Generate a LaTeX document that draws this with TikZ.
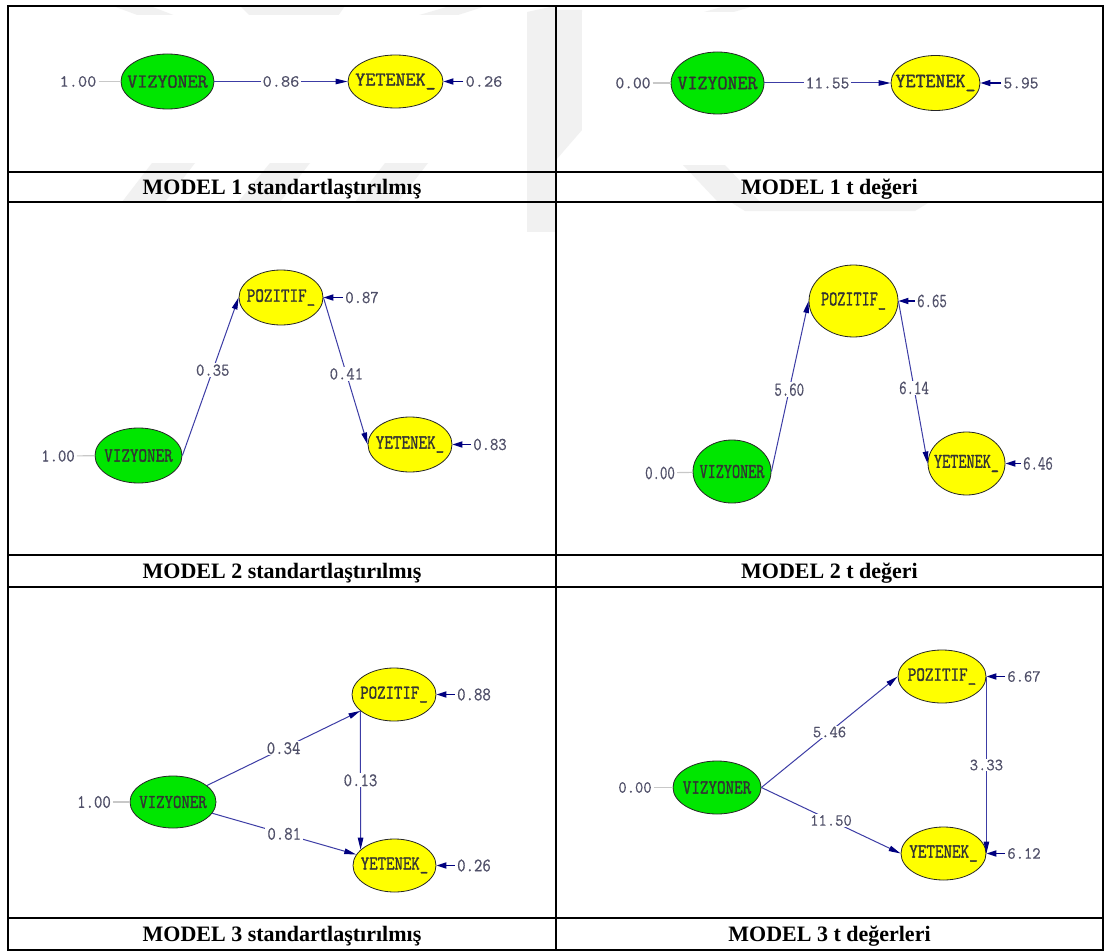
\documentclass[tikz,border=0pt]{standalone}
\usepackage{fontspec}
\setmainfont{Liberation Serif}
\newfontfamily\lvmono{Latin Modern Mono}[FakeBold=1.6]
\newfontfamily\nmmono{Latin Modern Mono}[FakeBold=0.5]
\usetikzlibrary{shapes.geometric,arrows.meta}

\definecolor{lvgreen}{RGB}{0,230,0}
\definecolor{lvyellow}{RGB}{255,255,0}
\definecolor{pathblue}{RGB}{60,60,165}
\definecolor{tipnavy}{RGB}{0,0,128}
\definecolor{valgray}{RGB}{80,80,105}
\definecolor{leadgray}{RGB}{200,200,200}
\definecolor{wmgray}{RGB}{241,241,241}

% per-panel text sizes and horizontal squeeze
\def\lvsx{1}\def\lvfs{20}\def\nmsx{1}\def\nmfs{17}
\newcommand\vt[1]{\makebox[0pt]{\scalebox{\lvsx}[1]{#1}}}
\newcommand\nt[1]{\scalebox{\nmsx}[1]{#1}}

\tikzset{
  latent/.style={ellipse, draw=black!85, line width=0.8pt, inner sep=0pt,
    text=black!80, font=\lvmono\fontsize{\lvfs}{\lvfs}\selectfont},
  exo/.style={latent, fill=lvgreen},
  endo/.style={latent, fill=lvyellow},
  val/.style={text=valgray, inner xsep=2pt, inner ysep=1pt,
    font=\nmmono\fontsize{\nmfs}{\nmfs}\selectfont},
  onpath/.style={val, fill=white},
  effect/.style={draw=pathblue, line width=1pt,
    -{Triangle[length=12pt,width=5.5pt,color=tipnavy]}},
  resid/.style={draw=tipnavy, line width=1.8pt, -{Triangle[length=10pt,width=6pt]}},
  fixed/.style={draw=leadgray, line width=1.2pt},
  caption/.style={font=\bfseries\fontsize{22}{24}\selectfont, anchor=base},
  grid/.style={line width=1.6pt, draw=black},
  wmark/.style={fill=wmgray, draw=none},
}

\begin{document}
\begin{tikzpicture}[x=1pt,y=-1pt]
\useasboundingbox (0,0) rectangle (1105,952);
\fill[white] (0,0) rectangle (1105,952);

% faint page watermark
\fill[wmark] (113,6) -- (150,6) -- (176,16) -- (140,16) -- cycle;
\fill[wmark] (240,6) -- (345,6) -- (338,16) -- (250,16) -- cycle;
\fill[wmark] (450,6) -- (486,6) -- (455,16) -- (416,16) -- cycle;
\fill[wmark] (725,6) -- (754,6) -- (720,16) -- (690,16) -- cycle;
\fill[wmark] (527,12) -- (555,6) -- (555,202) -- (527,202) -- cycle;
\fill[wmark] (556,10) -- (582,10) -- (582,130) -- (556,160) -- cycle;
\fill[wmark] (152,163) -- (195,163) -- (165,202) -- (122,202) -- cycle;
\fill[wmark] (270,163) -- (310,163) -- (280,202) -- (238,202) -- cycle;
\fill[wmark] (385,163) -- (428,163) -- (398,202) -- (355,202) -- cycle;
\fill[wmark] (683,165) -- (725,165) -- (760,202) -- (718,202) -- cycle;
\fill[wmark] (732,203) -- (928,203) -- (915,211) -- (745,211) -- cycle;
\fill[wmark] (527,203) -- (555,203) -- (555,232) -- (527,232) -- cycle;

% white backgrounds of the path diagrams
\fill[white] (11,15) rectangle (527,163);
\fill[white] (582,12) rectangle (1095,165);
\fill[white] (11,203) rectangle (527,553);

% MODEL 1, standardized
\begin{scope}
\def\lvsx{1}\def\lvfs{19.5}\def\nmsx{1.05}\def\nmfs{17}
\node[exo, minimum width=93pt, minimum height=55pt] (v1) at (167.5,81.5) {\vt{VIZYONER}};
\node[endo, minimum width=95pt, minimum height=53pt] (y1) at (395.5,81.5) {\vt{YETENEK\_}};
\node[val] (c1) at (78,81.5) {\nt{1.00}};
\node[val] (e1) at (484,81.5) {\nt{0.26}};
\draw[fixed] (c1) -- (v1);
\draw[effect] (v1) -- node[onpath]{\nt{0.86}} (y1);
\draw[resid] (e1) -- (y1);
\end{scope}

% MODEL 1, t values
\begin{scope}
\def\lvsx{0.97}\def\lvfs{20}\def\nmsx{0.97}\def\nmfs{17.5}
\node[exo, minimum width=93pt, minimum height=62pt] (v2) at (717.5,83) {\vt{VIZYONER}};
\node[endo, minimum width=89pt, minimum height=55pt] (y2) at (935.5,83) {\vt{YETENEK\_}};
\node[val] (c2) at (633,83) {\nt{0.00}};
\node[val] (e2) at (1021,83) {\nt{5.95}};
\draw[fixed] (c2) -- (v2);
\draw[effect] (v2) -- node[onpath]{\nt{11.55}} (y2);
\draw[resid] (e2) -- (y2);
\end{scope}

% MODEL 2, standardized
\begin{scope}
\def\lvsx{0.83}\def\lvfs{20}\def\nmsx{0.9}\def\nmfs{18}
\node[endo, minimum width=84pt, minimum height=55pt] (p3) at (281,297.5) {\vt{POZITIF\_}};
\node[exo, minimum width=87pt, minimum height=55pt] (v3) at (138.5,455.5) {\vt{VIZYONER}};
\node[endo, minimum width=84pt, minimum height=55pt] (y3) at (410,444.5) {\vt{YETENEK\_}};
\node[val] (c3) at (58,456) {\nt{1.00}};
\node[val] (e3p) at (362,297.5) {\nt{0.87}};
\node[val] (e3y) at (490,444.5) {\nt{0.83}};
\draw[fixed] (c3) -- (v3);
\draw[effect] (v3.east) -- node[onpath, pos=0.54]{\nt{0.35}} (p3.west);
\draw[effect] (p3.east) -- node[onpath, pos=0.52]{\nt{0.41}} (y3.west);
\draw[resid] (e3p) -- (p3);
\draw[resid] (e3y) -- (y3);
\end{scope}

% MODEL 2, t values
\begin{scope}
\def\lvsx{0.75}\def\lvfs{21}\def\nmsx{0.72}\def\nmfs{20}
\node[endo, minimum width=89pt, minimum height=72pt] (p4) at (853.5,301) {\vt{POZITIF\_}};
\node[exo, minimum width=78pt, minimum height=63pt] (v4) at (732,471.5) {\vt{VIZYONER}};
\node[endo, minimum width=77pt, minimum height=63pt] (y4) at (966.5,463.5) {\vt{YETENEK\_}};
\node[val] (c4) at (660,473) {\nt{0.00}};
\node[val] (e4p) at (932,301) {\nt{6.65}};
\node[val] (e4y) at (1038,463.5) {\nt{6.46}};
\draw[fixed] (c4) -- (v4);
\draw[effect] (v4.east) -- node[onpath, pos=0.48]{\nt{5.60}} (p4.west);
\draw[effect] (p4.east) -- node[onpath, pos=0.535]{\nt{6.14}} (y4.west);
\draw[resid] (e4p) -- (p4);
\draw[resid] (e4y) -- (y4);
\end{scope}

% MODEL 3, standardized
\begin{scope}
\def\lvsx{0.84}\def\lvfs{19.5}\def\nmsx{0.86}\def\nmfs{19}
\node[endo, minimum width=84pt, minimum height=53pt] (p5) at (394,694.5) {\vt{POZITIF\_}};
\node[exo, minimum width=86pt, minimum height=52pt] (v5) at (173,802) {\vt{VIZYONER}};
\node[endo, minimum width=83pt, minimum height=53pt] (y5) at (394.5,865.5) {\vt{YETENEK\_}};
\node[val] (c5) at (94,802) {\nt{1.00}};
\node[val] (e5p) at (474,694.5) {\nt{0.88}};
\node[val] (e5y) at (474,865.5) {\nt{0.26}};
\draw[fixed] (c5) -- (v5);
\draw[effect] (v5) -- node[onpath]{\nt{0.34}} (p5);
\draw[effect] (v5) -- node[onpath]{\nt{0.81}} (y5);
\draw[effect] (p5.206.4) -- node[onpath]{\nt{0.13}} (y5.155);
\draw[resid] (e5p) -- (p5);
\draw[resid] (e5y) -- (y5);
\end{scope}

% MODEL 3, t values
\begin{scope}
\def\lvsx{0.83}\def\lvfs{20}\def\nmsx{0.95}\def\nmfs{17}
\node[endo, minimum width=88pt, minimum height=53pt] (p6) at (942,676.5) {\vt{POZITIF\_}};
\node[exo, minimum width=88pt, minimum height=53pt] (v6) at (717,787.5) {\vt{VIZYONER}};
\node[endo, minimum width=85pt, minimum height=53pt] (y6) at (943.5,853.5) {\vt{YETENEK\_}};
\node[val] (c6) at (635,787.5) {\nt{0.00}};
\node[val] (e6p) at (1024,676.5) {\nt{6.67}};
\node[val] (e6y) at (1024,853.5) {\nt{6.12}};
\draw[fixed] (c6) -- (v6);
\draw[effect] (v6.east) -- node[onpath]{\nt{5.46}} (p6.west);
\draw[effect] (v6.east) -- node[onpath]{\nt{11.50}} (y6.west);
\draw[effect] (p6.east) -- node[onpath]{\nt{3.33}} (y6.east);
\draw[resid] (e6p) -- (p6);
\draw[resid] (e6y) -- (y6);
\end{scope}

% table rules
\draw[grid] (8,6) rectangle (1103,950);
\draw[grid] (556,6) -- (556,950);
\foreach \ry in {172,202,555,587,918}
  \draw[grid] (8,\ry) -- (1103,\ry);

% captions
\node[caption] (t1) at (282,194.5) {MODEL 1 standartlaştırılmış};
\node[caption] (t2) at (829.5,194.5) {MODEL 1 t değeri};
\node[caption] (t3) at (282,578) {MODEL 2 standartlaştırılmış};
\node[caption] (t4) at (829.5,578) {MODEL 2 t değeri};
\node[caption] (t5) at (282,941.5) {MODEL 3 standartlaştırılmış};
\node[caption] (t6) at (829.5,941.5) {MODEL 3 t değerleri};
\end{tikzpicture}
\end{document}
